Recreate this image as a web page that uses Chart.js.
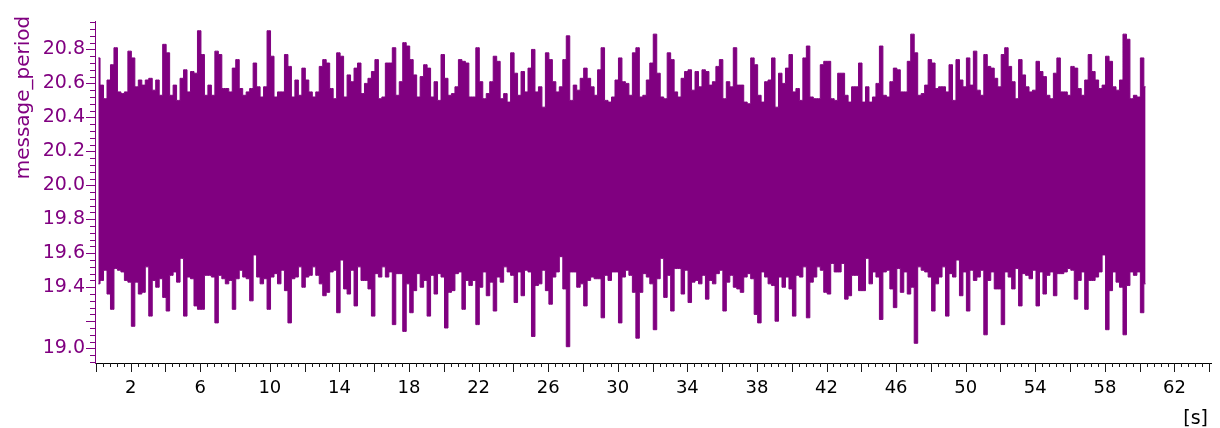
<!DOCTYPE html>
<html>
<head>
<meta charset="utf-8">
<script src="https://cdn.jsdelivr.net/npm/chart.js@4.4.0/dist/chart.umd.min.js"></script>
<style>
  html, body { margin: 0; padding: 0; background: #fff; }
  #wrap { width: 1220px; height: 428px; position: relative; }
</style>
</head>
<body>
<div id="wrap"><canvas id="chart"></canvas></div>
<script>
// message_period recorded over ~60 s, reduced to min/max per 0.2 s column
const signalName = 'message_period';
const timeUnit = '[s]';
const firstBinCenter = 0.14; // s
const binWidth = 0.2;        // s

// highest value in each 0.2 s column
const periodMax = [
  20.75, 20.59, 20.51, 20.62, 20.71, 20.81, 20.55, 20.54, 20.55, 20.79,
  20.75, 20.58, 20.62, 20.59, 20.62, 20.63, 20.56, 20.62, 20.53, 20.83,
  20.78, 20.53, 20.59, 20.50, 20.63, 20.68, 20.55, 20.67, 20.66, 20.91,
  20.77, 20.53, 20.59, 20.53, 20.79, 20.77, 20.57, 20.57, 20.55, 20.69,
  20.74, 20.57, 20.53, 20.55, 20.57, 20.72, 20.58, 20.52, 20.58, 20.91,
  20.76, 20.52, 20.55, 20.55, 20.77, 20.70, 20.52, 20.62, 20.53, 20.69,
  20.62, 20.55, 20.52, 20.55, 20.70, 20.74, 20.72, 20.57, 20.51, 20.78,
  20.76, 20.52, 20.65, 20.61, 20.69, 20.72, 20.54, 20.60, 20.63, 20.67,
  20.74, 20.51, 20.52, 20.72, 20.72, 20.81, 20.53, 20.61, 20.84, 20.82,
  20.74, 20.65, 20.52, 20.64, 20.71, 20.69, 20.52, 20.61, 20.50, 20.77,
  20.63, 20.53, 20.54, 20.58, 20.74, 20.73, 20.72, 20.52, 20.52, 20.81,
  20.61, 20.51, 20.54, 20.61, 20.76, 20.73, 20.51, 20.54, 20.49, 20.78,
  20.66, 20.53, 20.67, 20.55, 20.69, 20.80, 20.55, 20.58, 20.46, 20.78,
  20.74, 20.61, 20.55, 20.58, 20.74, 20.88, 20.50, 20.59, 20.56, 20.63,
  20.69, 20.63, 20.58, 20.53, 20.68, 20.81, 20.50, 20.49, 20.52, 20.62,
  20.75, 20.61, 20.60, 20.53, 20.78, 20.81, 20.52, 20.53, 20.62, 20.72,
  20.89, 20.66, 20.52, 20.51, 20.78, 20.74, 20.55, 20.52, 20.63, 20.67,
  20.68, 20.56, 20.67, 20.58, 20.68, 20.67, 20.59, 20.61, 20.70, 20.74,
  20.51, 20.61, 20.58, 20.81, 20.59, 20.59, 20.49, 20.48, 20.75, 20.71,
  20.53, 20.49, 20.61, 20.62, 20.75, 20.46, 20.66, 20.60, 20.69, 20.77,
  20.55, 20.57, 20.50, 20.75, 20.82, 20.52, 20.51, 20.51, 20.71, 20.73,
  20.73, 20.51, 20.50, 20.66, 20.66, 20.53, 20.49, 20.58, 20.58, 20.72,
  20.49, 20.58, 20.49, 20.52, 20.60, 20.82, 20.53, 20.52, 20.61, 20.69,
  20.68, 20.55, 20.55, 20.73, 20.89, 20.78, 20.53, 20.54, 20.59, 20.74,
  20.72, 20.57, 20.58, 20.58, 20.55, 20.71, 20.50, 20.74, 20.62, 20.58,
  20.75, 20.59, 20.79, 20.56, 20.53, 20.77, 20.70, 20.69, 20.63, 20.58,
  20.77, 20.81, 20.70, 20.61, 20.51, 20.74, 20.65, 20.58, 20.55, 20.56,
  20.73, 20.67, 20.64, 20.53, 20.51, 20.66, 20.75, 20.55, 20.55, 20.53,
  20.70, 20.69, 20.57, 20.53, 20.62, 20.77, 20.67, 20.62, 20.57, 20.59,
  20.76, 20.73, 20.58, 20.56, 20.62, 20.89, 20.86, 20.51, 20.53, 20.52,
  20.75, 20.58
];

// lowest value in each 0.2 s column
const periodMin = [
  19.42, 19.44, 19.50, 19.36, 19.27, 19.51, 19.50, 19.49, 19.44, 19.43,
  19.17, 19.43, 19.36, 19.37, 19.52, 19.23, 19.44, 19.40, 19.45, 19.34,
  19.26, 19.47, 19.49, 19.43, 19.57, 19.23, 19.46, 19.45, 19.29, 19.27,
  19.27, 19.47, 19.47, 19.46, 19.19, 19.47, 19.45, 19.42, 19.44, 19.27,
  19.45, 19.50, 19.46, 19.45, 19.32, 19.59, 19.46, 19.42, 19.45, 19.27,
  19.46, 19.48, 19.42, 19.50, 19.38, 19.19, 19.45, 19.46, 19.52, 19.40,
  19.46, 19.47, 19.52, 19.47, 19.42, 19.35, 19.37, 19.49, 19.50, 19.25,
  19.56, 19.39, 19.36, 19.50, 19.29, 19.52, 19.44, 19.44, 19.39, 19.23,
  19.48, 19.46, 19.52, 19.46, 19.49, 19.18, 19.48, 19.48, 19.14, 19.42,
  19.25, 19.38, 19.48, 19.40, 19.44, 19.23, 19.47, 19.36, 19.48, 19.46,
  19.16, 19.37, 19.38, 19.48, 19.49, 19.27, 19.44, 19.41, 19.44, 19.18,
  19.40, 19.49, 19.35, 19.43, 19.26, 19.46, 19.43, 19.52, 19.49, 19.47,
  19.31, 19.49, 19.35, 19.50, 19.49, 19.11, 19.41, 19.42, 19.50, 19.38,
  19.30, 19.46, 19.49, 19.58, 19.39, 19.05, 19.49, 19.49, 19.40, 19.42,
  19.29, 19.44, 19.46, 19.45, 19.45, 19.22, 19.47, 19.44, 19.49, 19.49,
  19.19, 19.46, 19.50, 19.47, 19.37, 19.10, 19.37, 19.48, 19.46, 19.42,
  19.15, 19.45, 19.57, 19.34, 19.47, 19.26, 19.51, 19.51, 19.36, 19.50,
  19.31, 19.43, 19.44, 19.42, 19.47, 19.33, 19.44, 19.42, 19.48, 19.50,
  19.26, 19.43, 19.47, 19.40, 19.39, 19.37, 19.46, 19.48, 19.45, 19.24,
  19.19, 19.49, 19.46, 19.42, 19.41, 19.20, 19.46, 19.40, 19.46, 19.39,
  19.23, 19.47, 19.46, 19.52, 19.22, 19.43, 19.46, 19.52, 19.50, 19.37,
  19.36, 19.54, 19.49, 19.49, 19.54, 19.33, 19.35, 19.47, 19.47, 19.38,
  19.38, 19.57, 19.42, 19.49, 19.46, 19.21, 19.49, 19.50, 19.39, 19.28,
  19.51, 19.37, 19.49, 19.36, 19.40, 19.07, 19.52, 19.50, 19.49, 19.46,
  19.26, 19.42, 19.46, 19.52, 19.23, 19.48, 19.46, 19.56, 19.35, 19.49,
  19.26, 19.50, 19.44, 19.46, 19.50, 19.12, 19.44, 19.49, 19.39, 19.39,
  19.18, 19.49, 19.46, 19.39, 19.51, 19.29, 19.48, 19.47, 19.45, 19.50,
  19.29, 19.49, 19.36, 19.47, 19.49, 19.35, 19.48, 19.48, 19.49, 19.51,
  19.50, 19.33, 19.44, 19.49, 19.27, 19.44, 19.44, 19.46, 19.49, 19.59,
  19.15, 19.38, 19.49, 19.43, 19.40, 19.12, 19.41, 19.49, 19.47, 19.49,
  19.25, 19.42
];

// labelled ticks
const xTickLabels = [2, 6, 10, 14, 18, 22, 26, 30, 34, 38, 42, 46, 50, 54, 58, 62];
const yTickLabels = [19.04, 19.4, 19.6, 19.8, 20.0, 20.2, 20.4, 20.6, 20.8];
// long tick marks on the value axis
const yMajorTicks = [19.04, 19.2, 19.4, 19.6, 19.8, 20.0, 20.2, 20.4, 20.6, 20.8];

const PURPLE = '#800080';
const FONT = '"DejaVu Sans", Verdana, sans-serif';

const binTime = i => firstBinCenter + i * binWidth;
const upperEdge = periodMax.map((v, i) => ({ x: binTime(i), y: v }));
const lowerEdge = periodMin.map((v, i) => ({ x: binTime(i), y: v }));

// minor/major tick marks plus the axis captions
const axisDecor = {
  id: 'axisDecor',
  afterDraw(chart) {
    const { ctx } = chart;
    const x = chart.scales.x;
    const y = chart.scales.y;
    ctx.save();
    ctx.lineWidth = 1;

    // time axis: every 0.4 s, longer every 2 s
    ctx.strokeStyle = '#1a1a1a';
    ctx.beginPath();
    for (let k = 0; k * 0.4 <= x.max + 1e-9; k++) {
      const px = Math.round(x.getPixelForValue(k * 0.4)) + 0.5;
      const len = k % 5 === 0 ? 9 : 4;
      ctx.moveTo(px, x.top);
      ctx.lineTo(px, x.top + len);
    }
    ctx.stroke();

    // value axis: every 0.04, longer at the labelled values
    ctx.strokeStyle = PURPLE;
    ctx.beginPath();
    for (let k = 474; k <= 524; k++) {
      const v = k * 0.04;
      if (v > y.max) break;
      const py = Math.round(y.getPixelForValue(v)) + 0.5;
      const major = yMajorTicks.some(m => Math.abs(m - v) < 1e-6);
      const len = major ? 9 : 5;
      ctx.moveTo(y.right - len, py);
      ctx.lineTo(y.right, py);
    }
    ctx.stroke();

    // rotated signal name
    ctx.fillStyle = PURPLE;
    ctx.font = '20px ' + FONT;
    ctx.textAlign = 'center';
    ctx.textBaseline = 'alphabetic';
    ctx.translate(28.5, 97.5);
    ctx.rotate(-Math.PI / 2);
    ctx.fillText(signalName, 0, 0);
    ctx.restore();

    // unit of the time axis
    ctx.save();
    ctx.fillStyle = '#000';
    ctx.font = '19px ' + FONT;
    ctx.textAlign = 'right';
    ctx.textBaseline = 'alphabetic';
    ctx.fillText(timeUnit, 1208, 424);
    ctx.restore();
  }
};

const edgeStyle = {
  borderColor: PURPLE,
  backgroundColor: PURPLE,
  borderWidth: 1,
  pointRadius: 0,
  stepped: 'middle',
  tension: 0
};

new Chart(document.getElementById('chart'), {
  type: 'line',
  data: {
    datasets: [
      // envelope filled between the column maxima and minima
      Object.assign({ label: signalName + ' max', data: upperEdge, fill: '+1' }, edgeStyle),
      Object.assign({ label: signalName + ' min', data: lowerEdge, fill: false }, edgeStyle)
    ]
  },
  options: {
    responsive: true,
    maintainAspectRatio: false,
    animation: false,
    events: [],
    layout: { padding: { top: 2, right: 9, left: 0, bottom: 0 } },
    plugins: {
      legend: { display: false },
      tooltip: { enabled: false },
      title: { display: false },
      filler: { propagate: false }
    },
    scales: {
      x: {
        type: 'linear',
        min: -0.05,
        max: 64.1,
        offset: false,
        grid: { display: false, drawTicks: false },
        border: { display: true, color: '#000', width: 1 },
        afterBuildTicks: s => { s.ticks = xTickLabels.map(v => ({ value: v })); },
        afterFit: s => { s.height = 65; },
        ticks: {
          autoSkip: false,
          maxRotation: 0,
          minRotation: 0,
          padding: 15,
          color: '#000',
          font: { family: FONT, size: 18 },
          callback: v => String(v)
        }
      },
      y: {
        type: 'linear',
        min: 18.954,
        max: 20.965,
        grid: { display: false, drawTicks: false },
        border: { display: true, color: PURPLE, width: 1 },
        afterBuildTicks: s => { s.ticks = yTickLabels.map(v => ({ value: v })); },
        afterFit: s => { s.width = 95; },
        ticks: {
          autoSkip: false,
          padding: 10,
          color: PURPLE,
          font: { family: FONT, size: 19 },
          callback: v => Number(v).toFixed(1)
        }
      }
    }
  },
  plugins: [axisDecor]
});
</script>
</body>
</html>
